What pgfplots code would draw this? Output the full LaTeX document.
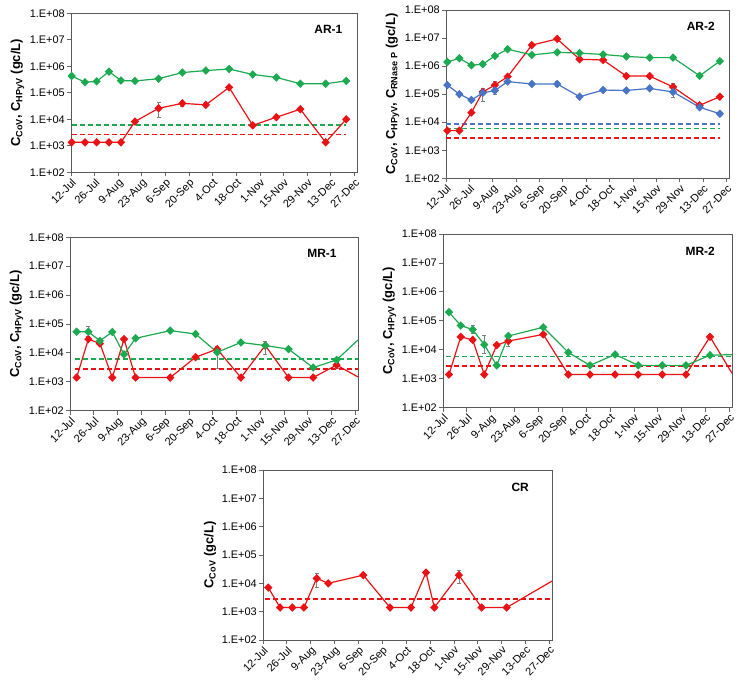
\documentclass[border=0pt]{standalone}
\usepackage{pgfplots}
\pgfplotsset{compat=1.18}
\usepackage{fontspec}
\setmainfont{Liberation Sans}
\definecolor{cred}{RGB}{235,18,22}
\definecolor{cgreen}{RGB}{28,170,80}
\definecolor{cblue}{RGB}{72,116,196}
\pgfplotsset{
  every axis/.append style={
    scale only axis,
    ymode=log, ymin=1e2, ymax=1e8,
    xmin=0, xmax=169.5,
    xtick={0,14,...,168},
    xticklabels={12-Jul,26-Jul,9-Aug,23-Aug,6-Sep,20-Sep,4-Oct,18-Oct,1-Nov,15-Nov,29-Nov,13-Dec,27-Dec},
    ytick={1e2,1e3,1e4,1e5,1e6,1e7,1e8},
    yticklabels={1.E+02,1.E+03,1.E+04,1.E+05,1.E+06,1.E+07,1.E+08},
    yminorticks=false,
    tick pos=left,
    tick align=outside,
    major tick length=4bp,
    tick style={black!60, line width=0.8bp},
    axis line style={black!65, line width=0.9bp},
    tick label style={font=\fontsize{11}{12}\selectfont, black},
    xticklabel style={rotate=45, anchor=north east, inner sep=1bp},
    yticklabel style={inner sep=2bp},
    ylabel style={font=\bfseries\fontsize{13}{15}\selectfont},
  },
  myser/.style={line width=1.2bp, mark=diamond*, mark size=3.4bp, mark options={solid, xscale=1.3}},
  mylod/.style={line width=1.7bp, dash pattern=on 5bp off 3bp},
}
\tikzset{plabel/.style={font=\bfseries\fontsize{12}{14}\selectfont}}
\begin{document}
\begin{tikzpicture}
\useasboundingbox (0,0) rectangle (739bp,683bp);

% ---------------- AR-1 ----------------
\begin{axis}[at={(71bp,510.7bp)}, anchor=south west, width=286bp, height=159bp,
  ylabel={C\textsubscript{CoV}, C\textsubscript{HPyV} (gc/L)}]
\addplot[mylod, cgreen] coordinates {(0.4,6.2e3) (163.1,6.2e3)};
\addplot[mylod, cred] coordinates {(0.4,2.7e3) (163.1,2.7e3)};
\addplot[draw=none, mark=none, forget plot, error bars/y dir=both, error bars/y explicit, error bars/error bar style={draw=gray, line width=0.7bp}, error bars/error mark options={draw=gray, rotate=90, mark size=2bp}] coordinates {(51.9,2.6e4) += (0,1.7e4) -= (0,1.4e4) (66,4.0e4) += (0,1.0e4) -= (0,0.8e4)};
\addplot[myser, cred] coordinates {(0.4,1.35e3) (8.3,1.35e3) (15.2,1.35e3) (22.5,1.35e3) (29.6,1.35e3) (37.9,8.2e3) (51.9,2.6e4) (66,4.0e4) (79.9,3.5e4) (93.7,1.6e5) (107.7,5.9e3) (121.7,1.2e4) (135.9,2.4e4) (150.9,1.35e3) (163.1,1.0e4)};
\addplot[myser, cgreen] coordinates {(0.4,4.3e5) (8.3,2.5e5) (15.2,2.7e5) (22.5,6.3e5) (29.6,2.9e5) (37.9,2.8e5) (51.9,3.4e5) (66,5.8e5) (79.9,6.9e5) (93.7,7.9e5) (107.7,4.9e5) (121.7,3.8e5) (135.9,2.2e5) (150.9,2.2e5) (163.1,2.8e5)};
\node[plabel] at (axis description cs:0.90,0.90) {AR-1};
\end{axis}

% ---------------- AR-2 ----------------
\begin{axis}[at={(446bp,504.7bp)}, anchor=south west, width=283bp, height=168.3bp,
  ylabel={C\textsubscript{CoV}, C\textsubscript{HPyV}, C\textsubscript{RNase P} (gc/L)}]
\addplot[mylod, cblue] coordinates {(0,8.7e3) (164,8.7e3)};
\addplot[mylod, cgreen] coordinates {(0,6.0e3) (164,6.0e3)};
\addplot[mylod, cred] coordinates {(0,2.8e3) (164,2.8e3)};
\addplot[draw=none, mark=none, forget plot, error bars/y dir=both, error bars/y explicit, error bars/error bar style={draw=gray, line width=0.7bp}, error bars/error mark options={draw=gray, rotate=90, mark size=2bp}] coordinates {(22,1.1e5) += (0,0.5e5) -= (0,0.55e5) (29.3,2.1e5) += (0,0.7e5) -= (0,1.1e5) (66.6,2.3e5) += (0,0.5e5) -= (0,0.4e5) (136,1.2e5) += (0,0.4e5) -= (0,0.4e5) (136,1.8e5) += (0,0.6e5) -= (0,0.4e5) (0.8,2.1e5) += (0,0.3e5) -= (0,0.3e5)};
\addplot[myser, cred] coordinates {(0.8,5.0e3) (8,5.0e3) (15.2,2.2e4) (22,1.2e5) (29.3,2.1e5) (36.9,4.2e5) (51.4,5.6e6) (66.6,9.3e6) (80,1.75e6) (94.1,1.65e6) (108,4.4e5) (122,4.4e5) (136,1.8e5) (151.9,4.0e4) (164,8.1e4)};
\addplot[myser, cgreen] coordinates {(0.8,1.4e6) (8,1.9e6) (15.2,1.07e6) (22,1.17e6) (29.3,2.3e6) (36.9,4.0e6) (51.4,2.5e6) (66.6,3.1e6) (80,2.9e6) (94.1,2.6e6) (108,2.2e6) (122,2.0e6) (136,2.0e6) (151.9,4.5e5) (164,1.5e6)};
\addplot[myser, cblue] coordinates {(0.8,2.1e5) (8,1.0e5) (15.2,6.2e4) (22,1.1e5) (29.3,1.35e5) (36.9,2.8e5) (51.4,2.3e5) (66.6,2.3e5) (80,8.1e4) (94.1,1.4e5) (108,1.35e5) (122,1.6e5) (136,1.2e5) (151.9,3.4e4) (164,2.0e4)};
\node[plabel] at (axis description cs:0.90,0.905) {AR-2};
\end{axis}

% ---------------- MR-1 ----------------
\begin{axis}[at={(70bp,272.3bp)}, anchor=south west, width=288bp, height=173.4bp,
  ylabel={C\textsubscript{CoV}, C\textsubscript{HPyV} (gc/L)}]
\addplot[mylod, cgreen] coordinates {(3,6.2e3) (169.5,6.2e3)};
\addplot[mylod, cred] coordinates {(3,2.8e3) (169.5,2.8e3)};
\addplot[draw=none, mark=none, forget plot, error bars/y dir=both, error bars/y explicit, error bars/error bar style={draw=gray, line width=0.7bp}, error bars/error mark options={draw=gray, rotate=90, mark size=2bp}] coordinates {(10.8,5.4e4) += (0,2.7e4) -= (0,1.5e4) (86.6,1.05e4) += (0,0.3e4) -= (0,0.76e4) (86.6,1.35e4) += (0,0.3e4) -= (0,0.3e4) (114.9,1.8e4) += (0,0.8e4) -= (0,0.9e4) (156.9,5.7e3) += (0,1.2e3) -= (0,1.2e3) (156.9,3.8e3) += (0,0.8e3) -= (0,0.8e3)};
\addplot[line width=1.2bp, cred, forget plot] coordinates {(156.9,3.8e3) (169.5,1.47e3)};
\addplot[myser, cred] coordinates {(3.9,1.4e3) (10.8,3.0e4) (17.6,2.1e4) (24.9,1.4e3) (31.8,3.0e4) (38.6,1.4e3) (59,1.4e3) (73.9,7.1e3) (86.6,1.35e4) (100.6,1.4e3) (114.9,1.8e4) (128.6,1.4e3) (143.1,1.4e3) (156.9,3.8e3)};
\addplot[line width=1.2bp, cgreen, forget plot] coordinates {(156.9,5.7e3) (169.5,2.8e4)};
\addplot[myser, cgreen] coordinates {(3.9,5.4e4) (10.8,5.4e4) (17.6,2.6e4) (24.9,5.3e4) (31.8,8.9e3) (38.6,3.2e4) (59,5.9e4) (73.9,4.5e4) (86.6,1.05e4) (100.6,2.3e4) (114.9,1.8e4) (128.6,1.35e4) (143.1,3.1e3) (156.9,5.7e3)};
\node[plabel] at (axis description cs:0.875,0.905) {MR-1};
\end{axis}

% ---------------- MR-2 ----------------
\begin{axis}[at={(443bp,275.3bp)}, anchor=south west, width=289bp, height=173.7bp,
  ylabel={C\textsubscript{CoV}, C\textsubscript{HPyV} (gc/L)}]
\addplot[mylod, cgreen] coordinates {(2,5.8e3) (169.5,5.8e3)};
\addplot[mylod, cred] coordinates {(2,2.7e3) (169.5,2.7e3)};
\addplot[draw=none, mark=none, forget plot, error bars/y dir=both, error bars/y explicit, error bars/error bar style={draw=gray, line width=0.7bp}, error bars/error mark options={draw=gray, rotate=90, mark size=2bp}] coordinates {(17.4,5.0e4) += (0,2.1e4) -= (0,1.2e4) (24.2,1.5e4) += (0,1.7e4) -= (0,0.76e4) (38.3,2.0e4) += (0,0.5e4) -= (0,0.7e4)};
\addplot[line width=1.2bp, cred, forget plot] coordinates {(156.6,2.8e4) (169.5,1.55e3)};
\addplot[myser, cred] coordinates {(3.5,1.4e3) (10.4,2.8e4) (17.4,2.2e4) (24.2,1.4e3) (31.5,1.45e4) (38.3,2.0e4) (58.8,3.4e4) (73.5,1.4e3) (86.2,1.4e3) (100.9,1.4e3) (114.5,1.4e3) (128.6,1.4e3) (142.5,1.4e3) (156.6,2.8e4)};
\addplot[line width=1.2bp, cgreen, forget plot] coordinates {(156.6,6.5e3) (169.5,6.8e3)};
\addplot[myser, cgreen] coordinates {(3.5,2.0e5) (10.4,6.9e4) (17.4,5.0e4) (24.2,1.5e4) (31.5,2.9e3) (38.3,3.0e4) (58.8,6.0e4) (73.5,8.1e3) (86.2,2.9e3) (100.9,6.9e3) (114.5,2.9e3) (128.6,2.9e3) (142.5,2.9e3) (156.6,6.5e3)};
\node[plabel] at (axis description cs:0.89,0.90) {MR-2};
\end{axis}

% ---------------- CR ----------------
\begin{axis}[at={(263bp,43bp)}, anchor=south west, width=289bp, height=170bp,
  ylabel={C\textsubscript{CoV} (gc/L)}]
\addplot[mylod, cred] coordinates {(1.2,2.8e3) (169.5,2.8e3)};
\addplot[draw=none, mark=none, forget plot, error bars/y dir=both, error bars/y explicit, error bars/error bar style={draw=gray, line width=0.7bp}, error bars/error mark options={draw=gray, rotate=90, mark size=2bp}] coordinates {(31.5,1.5e4) += (0,0.7e4) -= (0,0.74e4) (114.9,1.95e4) += (0,0.95e4) -= (0,0.9e4)};
\addplot[line width=1.2bp, cred, forget plot] coordinates {(142.9,1.4e3) (169.5,1.2e4)};
\addplot[myser, cred] coordinates {(3.1,7.1e3) (10,1.4e3) (17.2,1.4e3) (24,1.4e3) (31.5,1.5e4) (38.3,1.0e4) (58.8,1.95e4) (74.5,1.4e3) (86.8,1.4e3) (95.6,2.4e4) (100.5,1.4e3) (114.9,1.95e4) (128.2,1.4e3) (142.9,1.4e3)};
\node[plabel] at (axis description cs:0.89,0.90) {CR};
\end{axis}
\end{tikzpicture}
\end{document}
